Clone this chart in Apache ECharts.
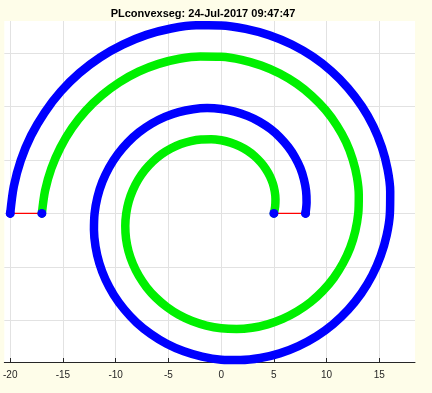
<!DOCTYPE html>
<html>
<head>
<meta charset="utf-8">
<script src="https://cdn.jsdelivr.net/npm/echarts@6/dist/echarts.min.js"></script>
<style>
html,body{margin:0;padding:0;background:#fefde9;}
#c{width:432px;height:393px;}
</style>
</head>
<body>
<div id="c"></div>
<script>
// Title and tick labels
const titleText = 'PLconvexseg: 24-Jul-2017 09:47:47';
const xTicks = [-20, -15, -10, -5, 0, 5, 10, 15];

// Outer (blue) spiral points [x, y]
const blueSpiral = [
  [8, 0], [8.10, 1.04], [8.05, 2.11], [7.85, 3.18], [7.51, 4.23], [7.01, 5.25],
  [6.36, 6.22], [5.58, 7.11], [4.67, 7.90], [3.64, 8.58], [2.50, 9.12], [1.28, 9.53],
  [0, 9.77], [-1.33, 9.85], [-2.67, 9.75], [-4.02, 9.48], [-5.33, 9.03], [-6.59, 8.40],
  [-7.78, 7.60], [-8.86, 6.64], [-9.81, 5.54], [-10.62, 4.30], [-11.27, 2.95], [-11.73, 1.51],
  [-12, 0], [-12.06, -1.55], [-11.91, -3.12], [-11.55, -4.67], [-10.97, -6.19], [-10.18, -7.63],
  [-9.19, -8.98], [-8.02, -10.21], [-6.67, -11.28], [-5.17, -12.19], [-3.54, -12.90], [-1.81, -13.40],
  [0, -13.68], [1.85, -13.72], [3.71, -13.53], [5.55, -13.09], [7.33, -12.41], [9.03, -11.50],
  [10.61, -10.36], [12.03, -9.02], [13.28, -7.49], [14.32, -5.80], [15.13, -3.96], [15.70, -2.02],
  [16, 0], [16.03, 2.06], [15.78, 4.13], [15.24, 6.17], [14.43, 8.14], [13.35, 10.01],
  [12.02, 11.74], [10.45, 13.31], [8.67, 14.67], [6.70, 15.80], [4.57, 16.67], [2.33, 17.27],
  [0, 17.59], [-2.37, 17.60], [-4.75, 17.30], [-7.08, 16.70], [-9.33, 15.79], [-11.47, 14.60],
  [-13.44, 13.13], [-15.21, 11.40], [-16.74, 9.44], [-18.02, 7.29], [-19.00, 4.97], [-19.66, 2.53],
  [-20, 0]
];

// Inner (green) spiral points [x, y]
const greenSpiral = [
  [5, 0], [5.12, 0.66], [5.15, 1.35], [5.08, 2.06], [4.91, 2.77], [4.63, 3.47],
  [4.24, 4.15], [3.75, 4.78], [3.17, 5.36], [2.49, 5.87], [1.73, 6.29], [0.89, 6.62],
  [0, 6.84], [-0.94, 6.94], [-1.90, 6.92], [-2.87, 6.77], [-3.83, 6.49], [-4.77, 6.07],
  [-5.66, 5.53], [-6.48, 4.86], [-7.22, 4.07], [-7.85, 3.18], [-8.37, 2.19], [-8.76, 1.13],
  [-9, 0], [-9.09, -1.17], [-9.02, -2.36], [-8.78, -3.55], [-8.37, -4.72], [-7.80, -5.85],
  [-7.07, -6.91], [-6.19, -7.88], [-5.17, -8.74], [-4.02, -9.48], [-2.76, -10.07], [-1.41, -10.49],
  [0, -10.75], [1.46, -10.82], [2.93, -10.70], [4.40, -10.38], [5.83, -9.87], [7.20, -9.17],
  [8.49, -8.29], [9.65, -7.24], [10.68, -6.03], [11.55, -4.67], [12.24, -3.20], [12.72, -1.64],
  [13, 0], [13.05, 1.68], [12.88, 3.37], [12.47, 5.05], [11.84, 6.68], [10.97, 8.23],
  [9.90, 9.67], [8.62, 10.98], [7.17, 12.13], [5.55, 13.09], [3.80, 13.84], [1.94, 14.37],
  [0, 14.66], [-1.98, 14.69], [-3.97, 14.47], [-5.93, 13.99], [-7.83, 13.26], [-9.64, 12.27],
  [-11.31, 11.05], [-12.83, 9.62], [-14.15, 7.98], [-15.24, 6.17], [-16.10, 4.21], [-16.69, 2.15],
  [-17, 0]
];

// Red connecting segments between spiral ends
const redSegA = [[-20, 0], [-17, 0]];
const redSegB = [[5, 0], [8, 0]];

// End points (blue dots)
const endPoints = [[-20, 0], [-17, 0], [5, 0], [8, 0]];

const font = '"Liberation Sans", Arial, Helvetica, sans-serif';
const chart = echarts.init(document.getElementById('c'), null, {renderer: 'canvas'});
chart.setOption({
  backgroundColor: '#fefde9',
  animation: false,
  title: {
    text: titleText,
    left: 198, top: 3,
    textAlign: 'center',
    textStyle: {fontFamily: font, fontSize: 11, fontWeight: 'bold', color: '#000'}
  },
  grid: {left: 0, right: 17, top: 21, bottom: 31, containLabel: false,
         show: true, backgroundColor: '#ffffff', borderWidth: 0},
  xAxis: {
    type: 'value', min: -20.56, max: 18.38,
    minInterval: 5, maxInterval: 5,
    axisLine: {show: true, onZero: false, lineStyle: {color: '#262626', width: 1}},
    axisTick: {show: true, inside: true, length: 4, lineStyle: {color: '#262626'}},
    axisLabel: {
      show: true, color: '#262626', fontFamily: font, fontSize: 10, margin: 8,
      showMinLabel: false, showMaxLabel: false,
      formatter: function (v) { return xTicks.indexOf(v) >= 0 ? String(v) : ''; }
    },
    splitLine: {show: true, showMinLine: false, showMaxLine: false, lineStyle: {color: '#e2e2e2', width: 1}}
  },
  yAxis: {
    type: 'value', min: -13.9, max: 18,
    minInterval: 5, maxInterval: 5,
    axisLine: {show: false},
    axisTick: {show: false},
    axisLabel: {show: false},
    splitLine: {show: true, showMinLine: false, showMaxLine: false, lineStyle: {color: '#e2e2e2', width: 1}}
  },
  series: [
    {type: 'line', data: blueSpiral, smooth: 0.3, showSymbol: false, z: 2,
     lineStyle: {color: '#0000ff', width: 8.5, cap: 'round', join: 'round'}},
    {type: 'line', data: greenSpiral, smooth: 0.3, showSymbol: false, z: 2,
     lineStyle: {color: '#00f000', width: 8.5, cap: 'round', join: 'round'}},
    {type: 'line', data: redSegA, showSymbol: false, z: 3,
     lineStyle: {color: '#ff0000', width: 1.4}},
    {type: 'line', data: redSegB, showSymbol: false, z: 3,
     lineStyle: {color: '#ff0000', width: 1.4}},
    {type: 'scatter', data: endPoints, symbol: 'circle', symbolSize: 9, z: 4,
     itemStyle: {color: '#0000ff', opacity: 1}}
  ]
});
</script>
</body>
</html>
